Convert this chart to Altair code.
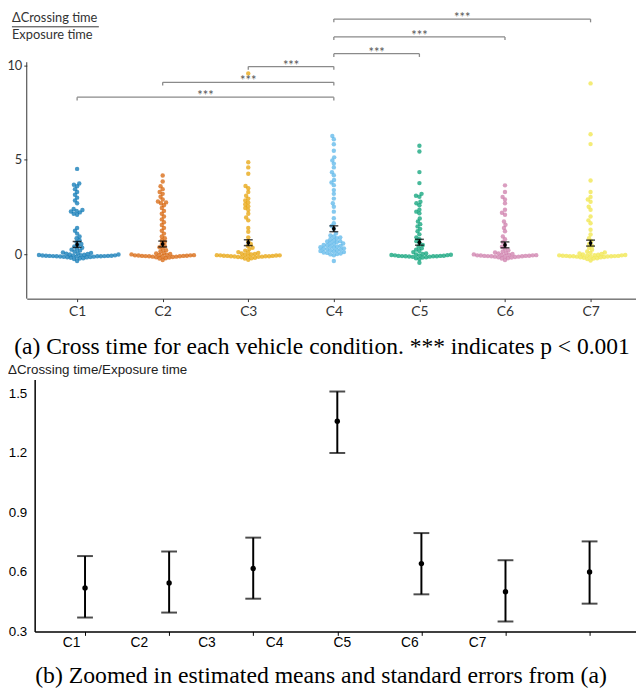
import math
import altair as alt
import pandas as pd

# ---------------- data ----------------
conds = ["C1", "C2", "C3", "C4", "C5", "C6", "C7"]
colors = ["#0072B2", "#D55E00", "#E69F00", "#56B4E9", "#009E73", "#CC79A7", "#F0E442"]

c1_vals = [4.52, 3.75, 3.68, 3.6, 3.45, 3.3, 3.15, 3.0, 2.85, 2.7, 2.4, 2.35, 2.3, 2.27, 2.22, 2.15, 2.1,
           1.4, 1.25, 1.1, 0.95, 0.85, 0.75, 0.65, 0.55, 0.48, 0.42, 0.35, 0.3, 0.25, 0.2, 0.15,
           -0.35, -0.25, -0.22, -0.2, -0.18, -0.16, -0.15, -0.14, -0.13, -0.12, -0.12, -0.11, -0.1, -0.1,
           -0.1, -0.09, -0.09, -0.08, -0.08, -0.07, -0.07, -0.06, -0.05, -0.05, -0.04, -0.03, -0.02, -0.01,
           0.0, 0.02, 0.04, 0.06, 0.08, 0.1]
c2_vals = [4.17, 3.85, 3.6, 3.45, 3.3, 3.2, 3.05, 2.9, 2.8, 2.75, 2.7, 2.6, 2.45, 2.3, 2.15, 2.0, 1.85,
           1.7, 1.55, 1.4, 1.25, 1.1, 0.95, 0.85, 0.75, 0.65, 0.55, 0.45, 0.38, 0.3, 0.22, 0.15,
           -0.3, -0.22, -0.2, -0.17, -0.15, -0.14, -0.12, -0.12, -0.1, -0.1, -0.1, -0.09, -0.08, -0.08,
           -0.07, -0.06, -0.05, -0.05, -0.04, -0.03, -0.02, 0.0, 0.02, 0.05, 0.08]
c3_vals = [9.57, 4.87, 4.6, 4.26, 3.62, 3.5, 3.3, 3.1, 2.95, 2.85, 2.75, 2.65, 2.55, 2.45, 2.35, 2.15,
           1.95, 1.8, 1.4, 1.2, 0.9, 0.7, 0.55, 0.45, 0.35, 0.28, 0.2, 0.12,
           -0.28, -0.22, -0.2, -0.18, -0.15, -0.14, -0.13, -0.12, -0.11, -0.1, -0.1, -0.1, -0.09, -0.08,
           -0.08, -0.07, -0.06, -0.05, -0.05, -0.04, -0.02, 0.0, 0.02, 0.05, 0.08, 0.1]
c4_vals = [6.26, 6.09, 5.82, 5.48, 5.13, 4.97, 4.8, 4.6, 4.34, 4.18, 3.93, 3.8, 3.66, 3.4, 3.2, 2.95,
           2.7, 2.52, 2.26, 1.91, 1.65, 1.5, 1.35,
           1.1, 1.0, 0.95, 0.9, 0.85, 0.8, 0.75, 0.7, 0.68, 0.65, 0.6, 0.58, 0.55, 0.5, 0.48, 0.45, 0.42,
           0.4, 0.38, 0.35, 0.32, 0.3, 0.28, 0.25, 0.22, 0.2, 0.18, 0.15, 0.12, 0.1, 0.08, 0.05, 0.02,
           0.0, -0.05, -0.35]
c5_vals = [5.74, 5.44, 4.35, 3.77, 3.2, 3.1, 3.05, 2.78, 2.7, 2.6, 2.36, 2.26, 2.17, 1.9, 1.74, 1.6,
           1.48, 1.35, 1.22, 1.06, 0.9, 0.8, 0.7, 0.6, 0.5, 0.4, 0.32, 0.25, 0.18, 0.12,
           -0.44, -0.25, -0.2, -0.17, -0.15, -0.13, -0.12, -0.11, -0.1, -0.1, -0.1, -0.09, -0.08, -0.08,
           -0.07, -0.06, -0.05, -0.04, -0.03, -0.02, 0.0, 0.02, 0.05]
c6_vals = [3.65, 3.3, 3.04, 2.9, 2.7, 2.36, 2.2, 2.1, 1.74, 1.57, 1.4, 1.22, 0.95, 0.8, 0.65, 0.5, 0.4,
           0.3, 0.22, 0.15,
           -0.3, -0.22, -0.2, -0.17, -0.15, -0.14, -0.12, -0.12, -0.1, -0.1, -0.1, -0.09, -0.08, -0.08,
           -0.07, -0.06, -0.05, -0.05, -0.04, -0.03, -0.02, 0.0, 0.02, 0.05, 0.08, 0.1]
c7_vals = [9.04, 6.35, 5.83, 3.91, 3.3, 3.04, 2.9, 2.78, 2.52, 2.36, 2.0, 1.8, 1.65, 1.3, 1.05, 0.85,
           0.7, 0.55, 0.45, 0.35, 0.25, 0.15,
           -0.32, -0.25, -0.22, -0.2, -0.18, -0.16, -0.15, -0.14, -0.12, -0.12, -0.11, -0.1, -0.1, -0.1,
           -0.09, -0.08, -0.08, -0.07, -0.06, -0.05, -0.05, -0.04, -0.03, -0.02, 0.0, 0.02, 0.05, 0.08, 0.1]
all_vals = [c1_vals, c2_vals, c3_vals, c4_vals, c5_vals, c6_vals, c7_vals]

means = [0.519, 0.544, 0.617, 1.36, 0.642, 0.50, 0.60]
se_low = [0.37, 0.395, 0.465, 1.20, 0.487, 0.35, 0.44]
se_high = [0.68, 0.703, 0.773, 1.51, 0.796, 0.659, 0.754]

br_from = [1, 2, 3, 4, 4, 4]
br_to = [4, 4, 4, 5, 6, 7]
br_level = [8.31, 9.10, 9.93, 10.61, 11.50, 12.44]

y_ticks_a = [0, 5, 10]
y_ticks_b = [0.3, 0.6, 0.9, 1.2, 1.5]

# --------------- swarm layout (pixel based) ---------------
def swarm_offsets(vals, diam=3.6, ypx=19.16, xpx=86.67):
    order = sorted(range(len(vals)), key=lambda i: vals[i])
    placed = []
    off = [0.0] * len(vals)
    for i in order:
        y = vals[i] * ypx
        forb = []
        for (px, py) in placed:
            dy = abs(py - y)
            if dy < diam:
                h = math.sqrt(diam * diam - dy * dy)
                forb.append((px - h, px + h))
        cands = [0.0] + [a for a, b in forb] + [b for a, b in forb]
        cands.sort(key=lambda c: (abs(c), c))
        chosen = 0.0
        for c in cands:
            if all(not (a + 1e-9 < c < b - 1e-9) for a, b in forb):
                chosen = c
                break
        placed.append((chosen, y))
        off[i] = chosen / xpx
    return off

rows = []
for k, vals in enumerate(all_vals):
    offs = swarm_offsets(vals)
    for v, o in zip(vals, offs):
        rows.append({"cond": conds[k], "xpos": k + 1 + o, "value": v})
df_pts = pd.DataFrame(rows)

df_err = pd.DataFrame({"idx": list(range(1, 8)), "mean": means, "lo": se_low, "hi": se_high})
df_br = pd.DataFrame({"f": br_from, "t": br_to, "lvl": br_level})
one = pd.DataFrame({"k": [0]})

# --------------- panel (a) ---------------
xA = alt.Scale(domain=[0.4116, 7.531], range=[19, 636], nice=False, zero=False)
yA = alt.Scale(domain=[-2.34, 12.8], range=[290, 0], nice=False, zero=False)
axXA = alt.Axis(orient="bottom", offset=-393, values=[1, 2, 3, 4, 5, 6, 7],
                labelExpr="'C' + datum.value", tickSize=3, tickColor="#333", domainColor="#333",
                labelFont="Lato", labelFontSize=14, labelColor="#333", labelPadding=3,
                labelFlush=False, grid=False, title=None)
axYA = alt.Axis(orient="left", offset=-19, values=y_ticks_a, domain=False, tickSize=3,
                tickColor="#333", labelFont="Lato", labelFontSize=13, labelColor="#333",
                labelPadding=2, grid=False, title=None)

def XA(f):
    return alt.X(f, scale=xA, axis=axXA)

def YA(f):
    return alt.Y(f, scale=yA, axis=axYA)

pts = alt.Chart(df_pts).mark_circle(size=20, opacity=0.72).encode(
    x=XA("xpos:Q"), y=YA("value:Q"),
    color=alt.Color("cond:N", scale=alt.Scale(domain=conds, range=colors), legend=None))
errA = alt.Chart(df_err).mark_rule(color="black", strokeWidth=1.5).encode(
    x=XA("idx:Q"), y=YA("lo:Q"), y2="hi:Q")
capA_lo = alt.Chart(df_err).mark_tick(orient="horizontal", size=9, thickness=1.5, color="black").encode(
    x=XA("idx:Q"), y=YA("lo:Q"))
capA_hi = alt.Chart(df_err).mark_tick(orient="horizontal", size=9, thickness=1.5, color="black").encode(
    x=XA("idx:Q"), y=YA("hi:Q"))
meanA = alt.Chart(df_err).mark_circle(size=14, color="black", opacity=1).encode(
    x=XA("idx:Q"), y=YA("mean:Q"))
br_h = alt.Chart(df_br).mark_rule(color="#8a8a8a", strokeWidth=1.3).encode(
    x=XA("f:Q"), x2="t:Q", y=YA("lvl:Q"))
br_l = alt.Chart(df_br).transform_calculate(tip="datum.lvl - 0.17").mark_rule(
    color="#8a8a8a", strokeWidth=1.3).encode(x=XA("f:Q"), y=YA("lvl:Q"), y2="tip:Q")
br_r = alt.Chart(df_br).transform_calculate(tip="datum.lvl - 0.17").mark_rule(
    color="#8a8a8a", strokeWidth=1.3).encode(x=XA("t:Q"), y=YA("lvl:Q"), y2="tip:Q")
stars = alt.Chart(df_br).transform_calculate(mid="(datum.f + datum.t) / 2").mark_text(
    text="***", font="Lato", fontSize=13, color="#555", baseline="alphabetic", dy=3).encode(
    x=XA("mid:Q"), y=YA("lvl:Q"))
ylineA = alt.Chart(one).mark_rule(color="#333", strokeWidth=1).encode(
    x=alt.X(datum=0.4116, scale=xA, axis=axXA),
    y=alt.Y(datum=-2.34, scale=yA, axis=axYA), y2=alt.Y2(datum=10.16))

panelA = alt.layer(pts, errA, capA_lo, capA_hi, meanA, br_h, br_l, br_r, stars, ylineA)

# --------------- panel (b) ---------------
xB = alt.Scale(domain=[0.401, 7.552], range=[27, 636], nice=False, zero=False)
yB = alt.Scale(domain=[0.3, 1.57], range=[627, 372], nice=False, zero=False)
axXB = alt.Axis(orient="bottom", offset=-56, values=[1, 2, 3, 4, 5, 6, 7],
                labelExpr="'C' + datum.value", tickSize=4, tickColor="black", domainColor="black",
                domainWidth=1.5, labelFont="Liberation Sans", labelFontSize=14, labelColor="black",
                labelPadding=0, labelFlush=False,
                labelOffset=alt.ExprRef(expr="-14 - 100 * datum.index"), grid=False, title=None)
axYB = alt.Axis(orient="left", offset=-27, values=y_ticks_b, format=".1f", ticks=False,
                domainColor="black", domainWidth=1.5, labelFont="Liberation Sans", labelFontSize=13.5,
                labelColor="black", labelPadding=8, labelFlush=False, grid=False, title=None)

def XB(f):
    return alt.X(f, scale=xB, axis=axXB)

def YB(f):
    return alt.Y(f, scale=yB, axis=axYB)

errB = alt.Chart(df_err).mark_rule(color="black", strokeWidth=2).encode(
    x=XB("idx:Q"), y=YB("lo:Q"), y2="hi:Q")
capB_lo = alt.Chart(df_err).mark_tick(orient="horizontal", size=16, thickness=2, color="black").encode(
    x=XB("idx:Q"), y=YB("lo:Q"))
capB_hi = alt.Chart(df_err).mark_tick(orient="horizontal", size=16, thickness=2, color="black").encode(
    x=XB("idx:Q"), y=YB("hi:Q"))
meanB = alt.Chart(df_err).mark_circle(size=30, color="black", opacity=1).encode(
    x=XB("idx:Q"), y=YB("mean:Q"))

panelB = alt.layer(errB, capB_lo, capB_hi, meanB)

# --------------- annotations ---------------
tA1 = alt.Chart(one).mark_text(text="ΔCrossing time", align="left", baseline="alphabetic",
                               font="Lato", fontSize=13, color="#333").encode(
    x=alt.value(4), y=alt.value(9.5))
fracA = alt.Chart(one).mark_rule(color="#333", strokeWidth=1).encode(
    x=alt.value(4), x2=alt.value(92), y=alt.value(14.7))
tA2 = alt.Chart(one).mark_text(text="Exposure time", align="left", baseline="alphabetic",
                               font="Lato", fontSize=13, color="#333").encode(
    x=alt.value(4), y=alt.value(27))
tB = alt.Chart(one).mark_text(text="ΔCrossing time/Exposure time", align="left", baseline="middle",
                              font="Liberation Sans", fontSize=13.5, color="#222").encode(
    x=alt.value(0), y=alt.value(362))
capA = alt.Chart(one).mark_text(
    text="(a) Cross time for each vehicle condition. *** indicates p < 0.001",
    align="center", baseline="middle", font="Liberation Serif", fontSize=23.8, color="black").encode(
    x=alt.value(318), y=alt.value(339))
capB = alt.Chart(one).mark_text(
    text="(b) Zoomed in estimated means and standard errors from (a)",
    align="center", baseline="middle", font="Liberation Serif", fontSize=24, color="black").encode(
    x=alt.value(317), y=alt.value(672))

chart = alt.layer(panelA, panelB, tA1, fracA, tA2, tB, capA, capB).resolve_scale(
    x="independent", y="independent"
).properties(
    width=636, height=683, padding=0, autosize=alt.AutoSizeParams(type="none")
).configure_view(strokeWidth=0)

chart.save("out.html", embed_options={"renderer": "svg", "actions": False})
